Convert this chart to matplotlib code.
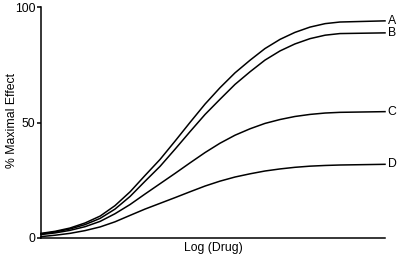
import numpy as np
import matplotlib
matplotlib.use("Agg")
import matplotlib.pyplot as plt

plt.rcParams['font.family'] = ['Liberation Sans', 'DejaVu Sans']

# log dose positions (arbitrary units) and response of the four agonists
log_drug = [0.0, 0.41, 0.84, 1.28, 1.72, 2.15, 2.59, 3.02, 3.46, 3.90, 4.33,
            4.77, 5.20, 5.64, 6.08, 6.51, 6.95, 7.38, 7.82, 8.26, 8.69, 10.0]
effect_a = [2.0, 2.9, 4.3, 6.5, 9.5, 14, 20, 27, 34, 42, 50,
            58, 65, 71.5, 77, 82, 86, 89, 91.3, 92.8, 93.5, 94]
effect_b = [1.8, 2.6, 3.9, 5.8, 8.5, 12.5, 18, 24.5, 31, 38.5, 46,
            53.5, 60, 66.5, 72, 77, 81, 84, 86.3, 87.8, 88.5, 88.8]
effect_c = [1.5, 2.2, 3.3, 4.9, 7.2, 10.5, 14.5, 19, 23.5, 28, 32.5,
            37, 41, 44.5, 47.3, 49.6, 51.3, 52.6, 53.5, 54.1, 54.4, 54.7]
effect_d = [0.6, 1.2, 2.0, 3.2, 4.8, 7, 9.8, 12.5, 15, 17.5, 20,
            22.5, 24.6, 26.4, 27.8, 29, 29.9, 30.6, 31.1, 31.4, 31.6, 31.9]
curve_names = ['A', 'B', 'C', 'D']
y_ticks = [0, 50, 100]

fig = plt.figure(figsize=(3.98, 2.57), dpi=100, facecolor='w')
ax = fig.add_axes([41 / 398, 1 - 238 / 257, 344 / 398, 231 / 257])

for name, effect in zip(curve_names, [effect_a, effect_b, effect_c, effect_d]):
    ax.plot(log_drug, effect, color='black', linewidth=1.1, clip_on=False,
            solid_joinstyle='round')
    ax.annotate(name, xy=(log_drug[-1], effect[-1]), xytext=(2, 0),
                textcoords='offset points', va='center', ha='left', fontsize=8.8)

ax.set_xlim(0, 10)
ax.set_ylim(0, 100)
ax.set_yticks(y_ticks)
ax.set_xticks([])
ax.spines['top'].set_visible(False)
ax.spines['right'].set_visible(False)
ax.spines['left'].set_linewidth(1.1)
ax.spines['bottom'].set_linewidth(1.1)
ax.tick_params(axis='y', length=3, width=1.1, labelsize=8.8, pad=1)
ax.set_ylabel('% Maximal Effect', fontsize=8.8, va='center')
ax.yaxis.set_label_coords(-0.085, 0.51)
ax.set_xlabel('Log (Drug)', fontsize=8.8, labelpad=3)

fig.savefig('out.png', dpi=100)
